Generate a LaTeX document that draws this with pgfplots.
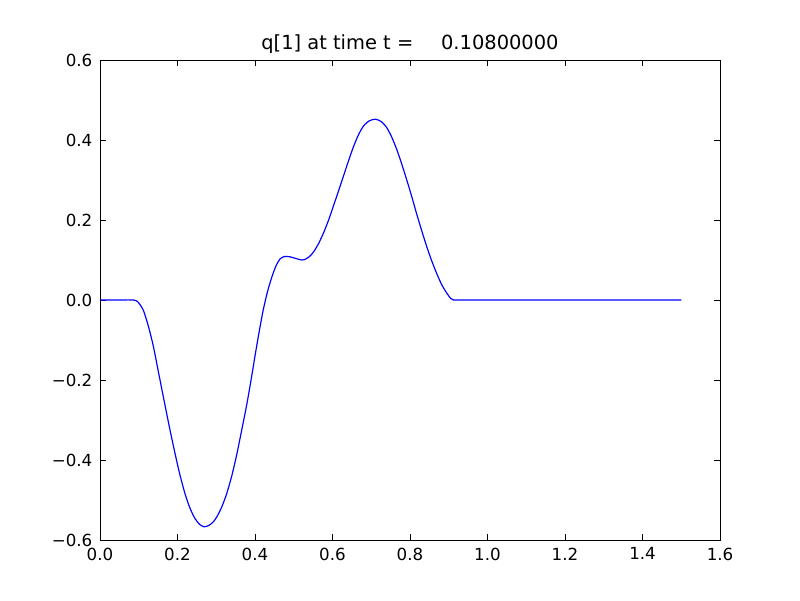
\documentclass[border=0pt]{standalone}
\usepackage{fontspec}
\setmainfont{DejaVu Sans}
\usepackage{pgfplots}
\pgfplotsset{compat=1.18}
\begin{document}
\begin{tikzpicture}
\path[use as bounding box] (-72pt,-43.2pt) rectangle (504pt,388.8pt);
\begin{axis}[
  at={(0,0)}, anchor=south west,
  scale only axis,
  width=446.4pt, height=345.6pt,
  xmin=0, xmax=1.6, ymin=-0.6, ymax=0.6,
  xtick={0,0.2,0.4,0.6,0.8,1.0,1.2,1.4,1.6},
  xticklabels={0.0,0.2,0.4,0.6,0.8,1.0,1.2,1.4,1.6},
  ytick={-0.6,-0.4,-0.2,0,0.2,0.4,0.6},
  yticklabels={−0.6,−0.4,−0.2,0.0,0.2,0.4,0.6},
  tick align=inside,
  major tick length=4pt,
  tick style={black, line width=0.5pt},
  axis line style={black, line width=0.7pt},
  ticklabel style={font=\fontsize{12}{14}\selectfont},
  xticklabel style={yshift=-2pt},
  yticklabel style={xshift=-2pt},
  title={q[1] at time t =\hspace{20pt}0.10800000},
  title style={font=\fontsize{14}{16}\selectfont, yshift=-5pt},
]
\addplot[color={rgb,1:red,0;green,0;blue,1}, line width=0.85pt, smooth, tension=0.4] coordinates {
(0,0) (0.04,0) (0.086,0) (0.098,-0.005) (0.112,-0.026) (0.125,-0.066) (0.138,-0.117)
(0.150,-0.176) (0.163,-0.240) (0.175,-0.298) (0.185,-0.345) (0.196,-0.394) (0.206,-0.436)
(0.219,-0.483) (0.232,-0.520) (0.245,-0.546) (0.257,-0.561) (0.269,-0.567)
(0.282,-0.563) (0.292,-0.555) (0.301,-0.543) (0.314,-0.518) (0.327,-0.484) (0.340,-0.440)
(0.353,-0.386) (0.366,-0.324) (0.379,-0.260) (0.390,-0.199) (0.400,-0.140) (0.411,-0.078)
(0.421,-0.026) (0.432,0.020) (0.443,0.056) (0.454,0.085) (0.465,0.103) (0.477,0.109)
(0.490,0.108) (0.505,0.104) (0.520,0.100) (0.530,0.102) (0.541,0.109) (0.551,0.120)
(0.564,0.141) (0.577,0.168) (0.590,0.200) (0.602,0.234) (0.615,0.271) (0.628,0.309)
(0.641,0.347) (0.654,0.383) (0.667,0.413) (0.680,0.435) (0.695,0.448) (0.711,0.452)
(0.726,0.446) (0.740,0.431) (0.753,0.407) (0.766,0.376) (0.779,0.339) (0.792,0.299)
(0.805,0.257) (0.817,0.216) (0.830,0.174) (0.843,0.134) (0.856,0.098) (0.869,0.066)
(0.882,0.038) (0.895,0.017) (0.905,0.004) (0.912,0.0) (0.95,0) (1.1,0) (1.3,0) (1.5,0)
};
\end{axis}
\end{tikzpicture}
\end{document}
